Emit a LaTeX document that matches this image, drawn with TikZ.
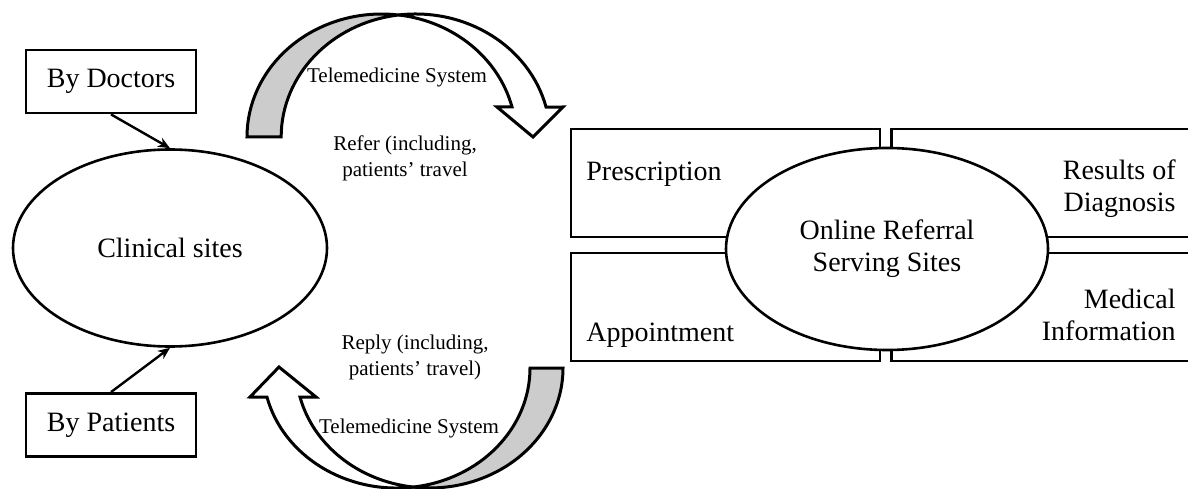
\documentclass[tikz,border=0pt]{standalone}
\usepackage{fontspec}
\setmainfont{Liberation Serif}
\usetikzlibrary{arrows.meta,shapes.geometric}

\begin{document}
\begin{tikzpicture}[x=0.5pt,y=0.5pt,%
    entry/.style={draw, line width=1.4pt, minimum width=85pt,%
    minimum height=31.5pt, font=\fontsize{14}{16}\selectfont},%
    site/.style={draw, ellipse, line width=1.3pt, inner sep=0pt,%
    align=center, font=\fontsize{14}{16}\selectfont},%
    panel/.style={draw, line width=1.4pt, inner sep=0pt,%
    minimum width=154.5pt, minimum height=54pt},%
    caption/.style={font=\fontsize{14}{16}\selectfont, inner sep=0pt},%
    note/.style={font=\fontsize{10.5}{13}\selectfont, align=center},%
    band/.style={line width=1.5pt, line join=miter},%
    link/.style={-{Stealth[length=6pt,width=5pt]}, line width=1.2pt}]
  \useasboundingbox (0,0) rectangle (1188,488);
  \clip (0,0) rectangle (1188,488);

  \node[entry] (doctors) at (111,406.5) {By Doctors};
  \node[entry] (patients) at (111,63) {By Patients};
  \node[site, minimum width=157pt, minimum height=98.5pt] (clinic)
      at (170,240) {Clinical sites};
  \draw[link] (doctors.south) -- (clinic.north);
  \draw[link] (patients.north) -- (clinic.south);

  \node[panel] (presc) at (725.5,305) {};
  \node[panel] (result) at (1046,305) {};
  \node[panel] (appoint) at (725.5,181) {};
  \node[panel] (medinfo) at (1046,181) {};
  \node[site, fill=white, minimum width=161pt, minimum height=101pt] (online)
      at (887,239) {Online Referral\\Serving Sites};
  \node[caption, anchor=base west] (presctext) at (586,307) {Prescription};
  \node[caption, anchor=base west] (appointtext) at (586,147) {Appointment};
  \node[caption, anchor=east, align=right] (resulttext) at (1176,299)
      {Results of\\Diagnosis};
  \node[caption, anchor=east, align=right] (medinfotext) at (1176,173)
      {Medical\\Information};

  \filldraw[band, fill=gray!40] (247,351)
      arc[start angle=180, end angle=82.7, x radius=67.25pt, y radius=61.5pt]
      arc[start angle=97.3, end angle=180, x radius=67.25pt, y radius=61.5pt]
      -- cycle;
  \filldraw[band, fill=white] (398.5,473)
      arc[start angle=97.3, end angle=14.1, x radius=67.25pt, y radius=61.5pt]
      -- (563,381) -- (533,351) -- (497,381) -- (512,381)
      arc[start angle=14.1, end angle=82.7, x radius=67.25pt, y radius=61.5pt]
      -- cycle;
  \filldraw[band, fill=gray!40] (563,120)
      arc[start angle=360, end angle=262.9, x radius=66.75pt, y radius=60pt]
      arc[start angle=277.1, end angle=360, x radius=66.75pt, y radius=60pt]
      -- cycle;
  \filldraw[band, fill=white] (413,0.9)
      arc[start angle=277.1, end angle=194, x radius=66.75pt, y radius=60pt]
      -- (250,91) -- (279,121) -- (316,91) -- (300,91)
      arc[start angle=194, end angle=262.9, x radius=66.75pt, y radius=60pt]
      -- cycle;

  \node[note] (topsys) at (397,411) {Telemedicine System};
  \node[note] (refer) at (405,330) {Refer (including,\\patients' travel};
  \node[note] (reply) at (415,131) {Reply (including,\\patients' travel)};
  \node[note] (botsys) at (409,60) {Telemedicine System};
\end{tikzpicture}
\end{document}
